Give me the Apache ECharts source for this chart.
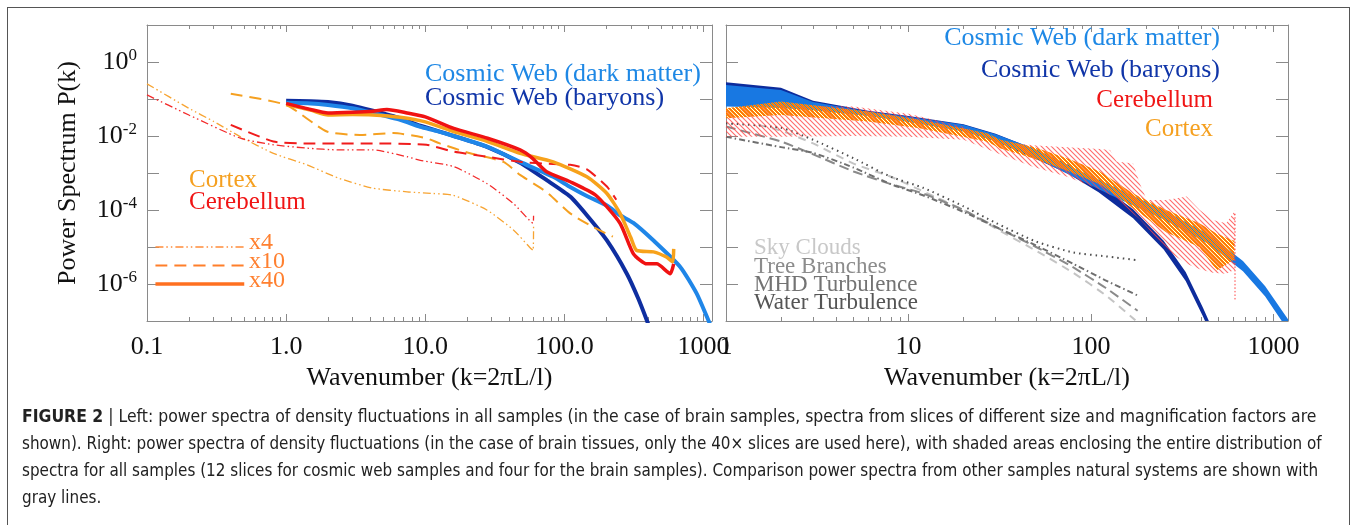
<!DOCTYPE html>
<html>
<head>
<meta charset="UTF-8">
<script src="https://cdn.jsdelivr.net/npm/echarts@6/dist/echarts.min.js"></script>
<style>
  body { margin: 0; background: #fff; }
  #wrap { position: relative; width: 1353px; height: 525px; overflow: hidden; }
  #main { position: absolute; left: 0; top: 0; width: 1353px; height: 525px; }
  #frame { position: absolute; left: 7px; top: 7px; width: 1341px; height: 600px; border: 1px solid #555; pointer-events: none; }
  .cap { position: absolute; left: 22px; white-space: nowrap; font-family: 'Liberation Sans Narrow', 'DejaVu Sans Condensed', 'Liberation Sans', sans-serif; font-size: 18px; line-height: 20px; color: #222; transform-origin: 0 0; }
  .cap b { font-weight: bold; }
</style>
</head>
<body>
<div id="wrap">
  <div id="main"></div>
  <div id="frame"></div>
  <div class="cap" style="top:406px" data-w="1294"><b>FIGURE 2</b> | Left: power spectra of density fluctuations in all samples (in the case of brain samples, spectra from slices of different size and magnification factors are</div>
  <div class="cap" style="top:433px" data-w="1300">shown). Right: power spectra of density fluctuations (in the case of brain tissues, only the 40× slices are used here), with shaded areas enclosing the entire distribution of</div>
  <div class="cap" style="top:460px" data-w="1296">spectra for all samples (12 slices for cosmic web samples and four for the brain samples). Comparison power spectra from other samples natural systems are shown with</div>
  <div class="cap" style="top:487px">gray lines.</div>
</div>
<script type="text/javascript">
// tick values and labels
var xMajorL = [0.1, 1, 10, 100, 1000];
var xLabelL = ['0.1', '1.0', '10.0', '100.0', '1000'];
var xMinorL = [0.2, 0.3, 0.4, 0.5, 0.6, 0.7, 0.8, 0.9, 2, 3, 4, 5, 6, 7, 8, 9, 20, 30, 40, 50, 60, 70, 80, 90, 200, 300, 400, 500, 600, 700, 800, 900];
var xMajorR = [1, 10, 100, 1000];
var xLabelR = ['1', '10', '100', '1000'];
var xMinorR = [2, 3, 4, 5, 6, 7, 8, 9, 20, 30, 40, 50, 60, 70, 80, 90, 200, 300, 400, 500, 600, 700, 800, 900];
var yTicks = [1e-7, 1e-6, 1e-5, 1e-4, 1e-3, 1e-2, 1e-1, 1, 10];
var yLabels = [1e-6, 1e-4, 1e-2, 1];

// left panel: single spectra [k, P(k)]
var darkMatterL = [[1, 7.9e-2], [1.5, 7.6e-2], [2, 6.9e-2], [3, 5.6e-2], [4.2, 4.2e-2], [6.6, 2.75e-2], [9.2, 1.78e-2], [12, 1.38e-2], [16, 1.0e-2], [28, 5.1e-3], [48, 2.0e-3], [83, 7.9e-4], [110, 4.2e-4], [145, 2.4e-4], [202, 1.32e-4], [251, 7.2e-5], [313, 4.5e-5], [437, 1.5e-5], [680, 2.9e-6], [893, 5.5e-7], [1083, 1.05e-7], [1150, 6.3e-8]];
var baryonsL = [[1, 8.9e-2], [1.5, 8.7e-2], [2, 8.3e-2], [3, 6.6e-2], [4.2, 4.8e-2], [6.6, 3.0e-2], [9.2, 1.9e-2], [16, 1.0e-2], [28, 5.0e-3], [48, 1.9e-3], [75, 6.3e-4], [110, 2.3e-4], [145, 7.2e-5], [202, 1.5e-5], [281, 1.9e-6], [340, 4.0e-7], [391, 1.05e-7], [410, 6.3e-8]];
var cortex40 = [[1, 7.1e-2], [1.5, 5.0e-2], [2, 3.7e-2], [3, 3.8e-2], [4.2, 3.7e-2], [6.6, 3.2e-2], [10, 2.4e-2], [16, 1.32e-2], [28, 7.1e-3], [48, 3.4e-3], [83, 2.0e-3], [145, 7.9e-4], [202, 2.8e-4], [251, 8.1e-5], [300, 1.8e-5], [330, 8.1e-6], [437, 7.4e-6], [540, 5.4e-6], [600, 4.0e-6], [610, 8.9e-6]];
var cerebellum40 = [[1, 7.6e-2], [1.5, 5.2e-2], [2, 4.2e-2], [3, 4.4e-2], [4.2, 4.7e-2], [5.3, 5.2e-2], [7.4, 4.2e-2], [10, 3.3e-2], [16, 1.6e-2], [28, 8.7e-3], [48, 4.2e-3], [59, 2.5e-3], [74, 1.1e-3], [110, 5.8e-4], [168, 2.5e-4], [251, 4.4e-5], [313, 6.6e-6], [391, 3.5e-6], [461, 3.5e-6], [576, 1.9e-6], [610, 3.5e-6]];
var cortex10 = [[0.4, 0.138], [1, 6.9e-2], [1.96, 1.32e-2], [3.4, 1.07e-2], [5.9, 1.2e-2], [10.2, 8.7e-3], [12.7, 6.3e-3], [21, 3.4e-3], [36.5, 2.0e-3], [48, 8.9e-4], [74, 3.1e-4], [110, 8.1e-5], [160, 3.5e-5], [223, 1.9e-5]];
var cerebellum10 = [[0.4, 2.0e-2], [0.81, 7.1e-3], [1.41, 6.3e-3], [4.2, 6.3e-3], [10.2, 5.8e-3], [15.9, 3.8e-3], [27.7, 2.75e-3], [48, 2.0e-3], [83, 1.74e-3], [110, 1.66e-3], [145, 1.26e-3], [202, 4.3e-4], [236, 1.9e-4]];
var cortex4 = [[0.1, 0.257], [0.2, 5.6e-2], [0.3, 2.5e-2], [0.47, 9.5e-3], [0.81, 3.4e-3], [1.41, 1.66e-3], [2.4, 7.2e-4], [4.2, 3.9e-4], [7.4, 3.1e-4], [11.4, 2.8e-4], [15.9, 2.5e-4], [27.7, 1.0e-4], [43, 2.9e-5], [56, 1.0e-5], [59.5, 8.1e-6], [60, 3.5e-5]];
var cerebellum4 = [[0.1, 0.129], [0.2, 3.7e-2], [0.47, 8.7e-3], [0.81, 5.8e-3], [1.41, 4.7e-3], [2.4, 4.2e-3], [4.2, 4.2e-3], [7.4, 2.75e-3], [9.2, 2.2e-3], [15.9, 1.5e-3], [27.7, 5.2e-4], [43, 1.5e-4], [59.5, 4.4e-5], [60, 7.0e-5]];
// legend sample lines (x4, x10, x40)
var keyX4 = [[0.115, 1e-5], [0.5, 1e-5]];
var keyX10 = [[0.115, 3.16e-6], [0.5, 3.16e-6]];
var keyX40 = [[0.115, 1e-6], [0.5, 1e-6]];

// right panel: envelopes [k, lower, upper]
var baryonsBand = [[1, 0.0891, 0.282], [2, 0.0794, 0.200], [3, 0.0603, 0.0891], [6, 0.038, 0.0479], [10, 0.0263, 0.0347], [20, 0.0145, 0.0209], [30, 0.00724, 0.0115], [40, 0.0038, 0.0066], [50, 0.0024, 0.00417], [75, 9.5e-4, 0.00166], [110, 3.0e-4, 5.2e-4], [170, 6.0e-5, 1.05e-4], [250, 8.5e-6, 1.48e-5], [330, 1.2e-6, 2.1e-6], [410, 1.35e-7, 2.3e-7], [450, 4.8e-8, 8.3e-8]];
var darkMatterBand = [[1, 0.063, 0.24], [2, 0.0575, 0.174], [3, 0.050, 0.083], [6, 0.0347, 0.0457], [10, 0.024, 0.0331], [20, 0.0132, 0.020], [30, 0.00724, 0.0112], [50, 0.0025, 0.00437], [80, 7.9e-4, 0.00138], [145, 1.9e-4, 3.5e-4], [250, 5.5e-5, 1.0e-4], [440, 1.2e-5, 2.2e-5], [680, 2.2e-6, 4.2e-6], [900, 4.6e-7, 8.7e-7], [1200, 5.6e-8, 1.12e-7]];
var cortexBand = [[1, 0.030, 0.056], [2, 0.037, 0.085], [6, 0.0245, 0.0457], [11.5, 0.0162, 0.0275], [26.7, 0.0071, 0.012], [32, 0.0046, 0.0079], [48, 0.0025, 0.0051], [74, 0.00115, 0.0025], [112, 5.0e-4, 0.0011], [170, 1.12e-4, 2.8e-4], [258, 2.5e-5, 1.0e-4], [392, 1.0e-5, 4.4e-5], [488, 2.3e-6, 2.3e-5], [600, 4.4e-6, 1.5e-5], [610, 4.4e-6, 1.5e-5]];
var cerebellumBand = [[1, 0.0095, 0.056], [2, 0.0095, 0.069], [5, 0.010, 0.063], [10, 0.0095, 0.040], [20, 0.0079, 0.0178], [32, 0.00316, 0.0071], [48, 0.00148, 0.0056], [74, 7.9e-4, 0.0050], [112, 3.5e-4, 0.00447], [127, 2.6e-4, 0.00417], [138, 2.0e-4, 0.00204], [170, 8.1e-5, 0.00182], [185, 5.6e-5, 5.2e-4], [202, 3.5e-5, 1.86e-4], [260, 8.1e-6, 1.86e-4], [334, 3.5e-6, 2.3e-4], [394, 2.5e-6, 1.0e-4], [465, 2.0e-6, 5.4e-5], [550, 1.9e-6, 4.4e-5], [600, 2.3e-6, 8.1e-5], [615, 2.3e-6, 1.0e-4]];
var cerebellumTail = [[615, 7.9e-5], [615, 3.5e-7]];
// right panel: other natural systems
var skyClouds = [[1.5, 2.0e-2], [2, 1.4e-2], [3, 6.3e-3], [5, 1.8e-3], [8, 7.9e-4], [12, 3.2e-4], [20, 1.0e-4], [30, 3.2e-5], [50, 7.9e-6], [80, 2.0e-6], [120, 5.0e-7], [175, 1.05e-7]];
var treeBranches = [[1, 1.8e-2], [2, 7.1e-3], [3, 3.2e-3], [5, 1.1e-3], [8, 5.0e-4], [12, 2.8e-4], [20, 1.0e-4], [30, 3.5e-5], [50, 1.0e-5], [80, 2.8e-6], [120, 7.9e-7], [180, 1.9e-7]];
var mhdTurb = [[1, 9.5e-3], [2, 5.0e-3], [3, 3.5e-3], [5, 1.4e-3], [8, 5.0e-4], [12, 2.5e-4], [20, 8.9e-5], [30, 3.5e-5], [50, 1.1e-5], [80, 3.5e-6], [120, 1.26e-6], [180, 4.9e-7]];
var waterTurb = [[1, 2.2e-2], [2, 1.66e-2], [3, 7.9e-3], [5, 2.5e-3], [8, 7.9e-4], [12, 4.0e-4], [20, 1.26e-4], [30, 4.5e-5], [50, 1.4e-5], [80, 7.1e-6], [120, 5.6e-6], [180, 4.4e-6]];

var FONT = 'Liberation Serif';
var AXC = '#8a8a8a';

var myChart = echarts.init(document.getElementById('main'));

function pick(vals, txt, v) {
  for (var i = 0; i < vals.length; i++) {
    if (Math.abs(Math.log10(v) - Math.log10(vals[i])) < 0.01) return txt[i];
  }
  return '';
}

function xAx(gi, max, pos, ticks, len, line, vals, txt) {
  var ax = {
    type: 'log', logBase: 10, gridIndex: gi, min: gi === 0 ? 0.1 : 1, max: max, position: pos,
    axisLine: { show: line, onZero: false, lineStyle: { color: AXC, width: 1 } },
    axisTick: { show: true, inside: true, length: len, customValues: ticks, lineStyle: { color: AXC, width: 1 } },
    axisLabel: { show: false },
    splitLine: { show: false }
  };
  if (vals) {
    ax.axisLabel = {
      show: true, customValues: vals, margin: 13, color: '#111', fontFamily: FONT, fontSize: 26,
      formatter: function (v) { return pick(vals, txt, v); }
    };
    ax.name = 'Wavenumber (k=2\u03c0L/l)';
    ax.nameLocation = 'middle';
    ax.nameGap = 39;
    ax.nameTextStyle = { color: '#111', fontFamily: FONT, fontSize: 26 };
  }
  return ax;
}

function yAx(gi, pos, labels) {
  var ax = {
    type: 'log', logBase: 10, gridIndex: gi, min: 1e-7, max: 10, position: pos,
    axisLine: { show: true, onZero: false, lineStyle: { color: AXC, width: 1 } },
    axisTick: { show: true, inside: true, length: 12, customValues: yTicks, lineStyle: { color: AXC, width: 1 } },
    axisLabel: { show: false },
    splitLine: { show: false }
  };
  if (labels) {
    ax.axisLabel = {
      show: true, customValues: yLabels, margin: 10,
      formatter: function (v) { return '{b|10}{s|' + Math.round(Math.log10(v)) + '}'; },
      rich: {
        b: { fontFamily: FONT, fontSize: 26, color: '#111', lineHeight: 30 },
        s: { fontFamily: FONT, fontSize: 17, color: '#111', lineHeight: 17, verticalAlign: 'top' }
      }
    };
    ax.name = 'Power Spectrum P(k)';
    ax.nameLocation = 'middle';
    ax.nameGap = 66;
    ax.nameTextStyle = { color: '#111', fontFamily: FONT, fontSize: 26 };
  }
  return ax;
}

function line(gi, data, color, width, type, z) {
  return {
    type: 'line', xAxisIndex: gi * 4, yAxisIndex: gi * 2, data: data, symbol: 'none', smooth: 0.2,
    lineStyle: { color: color, width: width, type: type, cap: 'butt' }, z: z, silent: true
  };
}

function band(gi, rows, fill, z) {
  return {
    type: 'custom', xAxisIndex: gi * 4, yAxisIndex: gi * 2, data: rows, encode: { x: 0, y: [1, 2] }, z: z, silent: true,
    renderItem: function (params, api) {
      if (params.dataIndex !== 0) return;
      var up = rows.map(function (r) { return api.coord([r[0], r[2]]); });
      var dn = rows.map(function (r) { return api.coord([r[0], r[1]]); }).reverse();
      var cs = params.coordSys;
      return {
        type: 'group',
        clipPath: { type: 'rect', shape: { x: cs.x, y: cs.y, width: cs.width, height: cs.height } },
        children: [{ type: 'polygon', shape: { points: up.concat(dn) }, style: { fill: fill, stroke: null } }]
      };
    }
  };
}

// hatch patterns for the brain envelopes
function redHatch() {
  var c = document.createElement('canvas');
  c.width = 5; c.height = 5;
  var g = c.getContext('2d');
  g.strokeStyle = 'rgba(255,70,70,0.8)';
  g.lineWidth = 1.1;
  g.beginPath();
  g.moveTo(0, 0); g.lineTo(5, 5);
  g.moveTo(-3, 2); g.lineTo(3, 8);
  g.moveTo(2, -3); g.lineTo(8, 3);
  g.stroke();
  return c;
}
function orangeHatch() {
  var c = document.createElement('canvas');
  c.width = 4; c.height = 4;
  var g = c.getContext('2d');
  for (var x = 0; x < 4; x++) {
    for (var y = 0; y < 4; y++) {
      var col = null;
      if ((x + y) % 2 === 0) col = '#ffa000';
      else if ((x + 3 * y) % 4 === 1) col = '#ff5a1a';
      if (col) { g.fillStyle = col; g.fillRect(x, y, 1, 1); }
    }
  }
  return c;
}

function txt(x, y, s, color, size, align) {
  return {
    type: 'text', x: x, y: y, silent: true, z: 100,
    style: { text: s, fill: color, font: size + 'px "Liberation Serif"', textAlign: align || 'left', align: align || 'left', textVerticalAlign: 'middle', verticalAlign: 'middle' }
  };
}

var DASHDOT3 = [8, 3, 1.5, 3, 1.5, 3];

var option = {
  animation: false,
  backgroundColor: '#fff',
  grid: [
    { left: 147, top: 25, width: 565, height: 296, outerBoundsMode: 'none' },
    { left: 726, top: 25, width: 562, height: 296, outerBoundsMode: 'none' }
  ],
  xAxis: [
    xAx(0, 1150, 'bottom', xMajorL, 7, true, xMajorL, xLabelL),
    xAx(0, 1150, 'bottom', xMinorL, 4, false),
    xAx(0, 1150, 'top', xMajorL, 7, true),
    xAx(0, 1150, 'top', xMinorL, 4, false),
    xAx(1, 1200, 'bottom', xMajorR, 7, true, xMajorR, xLabelR),
    xAx(1, 1200, 'bottom', xMinorR, 4, false),
    xAx(1, 1200, 'top', xMajorR, 7, true),
    xAx(1, 1200, 'top', xMinorR, 4, false)
  ],
  yAxis: [
    yAx(0, 'left', true),
    yAx(0, 'right', false),
    yAx(1, 'left', false),
    yAx(1, 'right', false)
  ],
  series: [
    // left panel
    line(0, baryonsL, '#0e2ea0', 4, 'solid', 2),
    line(0, darkMatterL, '#1f86e8', 4, 'solid', 3),
    line(0, cortex4, '#f7a432', 1.3, DASHDOT3, 4),
    line(0, cerebellum4, '#f32a2a', 1.3, DASHDOT3, 4),
    line(0, cortex10, '#f5a020', 2, [12, 7], 5),
    line(0, cerebellum10, '#f01c1c', 2, [12, 7], 5),
    line(0, cortex40, '#f7a21b', 3.5, 'solid', 6),
    line(0, cerebellum40, '#f01212', 3.5, 'solid', 7),
    line(0, keyX4, '#ff8c3a', 1.5, DASHDOT3, 6),
    line(0, keyX10, '#ff7f2a', 2, [12, 7], 6),
    line(0, keyX40, '#ff7020', 3.5, 'solid', 6),
    // right panel
    band(1, baryonsBand, '#0d2c9c', 2),
    band(1, darkMatterBand, '#1878e2', 3),
    band(1, cerebellumBand, { image: redHatch(), repeat: 'repeat' }, 4),
    band(1, cortexBand, { image: orangeHatch(), repeat: 'repeat' }, 5),
    line(1, cerebellumTail, '#ff4040', 1, [1.5, 2], 5),
    line(1, skyClouds, '#c4c4c4', 2, [8, 6], 3),
    line(1, treeBranches, '#8a8a8a', 2, [10, 5], 3),
    line(1, mhdTurb, '#6f6f6f', 2, [6, 3, 1.5, 3], 3),
    line(1, waterTurb, '#4d4d4d', 2, [1.5, 4], 3)
  ],
  graphic: [
    txt(425, 74, 'Cosmic Web (dark matter)', '#1e88e5', 26),
    txt(425, 98, 'Cosmic Web (baryons)', '#1035a8', 26),
    txt(189, 180, 'Cortex', '#f5a020', 25),
    txt(189, 202, 'Cerebellum', '#f01515', 25),
    txt(249, 243, 'x4', '#ff8030', 24),
    txt(249, 262, 'x10', '#ff8030', 24),
    txt(249, 281, 'x40', '#ff8030', 24),
    txt(1220, 38, 'Cosmic Web (dark matter)', '#1e88e5', 26, 'right'),
    txt(1220, 70, 'Cosmic Web (baryons)', '#1035a8', 26, 'right'),
    txt(1213, 100, 'Cerebellum', '#f01515', 25, 'right'),
    txt(1213, 129, 'Cortex', '#f5a020', 25, 'right'),
    txt(754, 248, 'Sky Clouds', '#c8c8c8', 23),
    txt(754, 267, 'Tree Branches', '#8c8c8c', 23),
    txt(754, 285, 'MHD Turbulence', '#737373', 23),
    txt(754, 303, 'Water Turbulence', '#555555', 23)
  ]
};

myChart.setOption(option);

// stretch caption lines to the widths of the printed figure
var caps = document.querySelectorAll('.cap');
var lastScale = 1;
for (var i = 0; i < caps.length; i++) {
  var w = +caps[i].getAttribute('data-w');
  if (w) lastScale = w / caps[i].scrollWidth;
  caps[i].style.transform = 'scaleX(' + lastScale + ')';
}
</script>
</body>
</html>
